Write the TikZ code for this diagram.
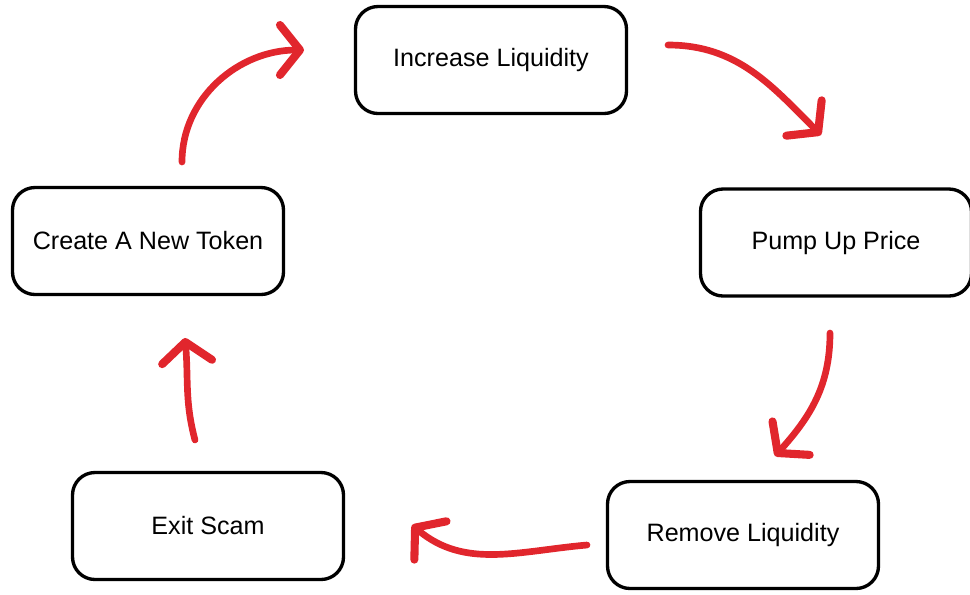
\documentclass[tikz,border=0pt]{standalone}
\usepackage{fontspec}
\setmainfont{Liberation Sans}
\usepackage{tikz}
\usetikzlibrary{arrows.meta}
\definecolor{sRed}{HTML}{E1262D}
\tikzset{box/.style={draw, line width=1.9pt, rounded corners=0.45cm,
  minimum width=5.42cm, minimum height=2.14cm, inner sep=0pt,
  font=\fontsize{14.3}{17}\selectfont}}
\tikzset{r/.style={draw, line width=3.8pt, sRed, line cap=round,
  -{Straight Barb[round, line width=4.6pt, length=0.4cm, width=1.0cm]}}}

\begin{document}
\begin{tikzpicture}
        \useasboundingbox (0,0) rectangle (19.4,-11.88);
        %% boxes
        \node (inc) at (9.82,-1.2) [box] {Increase Liquidity};
        \node (pump) at (16.72,-4.85) [box] {Pump Up Price};
        \node (rem) at (14.86,-10.7) [box] {Remove Liquidity};
        \node (ex) at (4.16,-10.52) [box] {Exit Scam};
        \node (new) at (2.96,-4.82) [box] {Create A New Token};
        %% arrow ends
        \coordinate (n1) at (3.64,-3.24);
        \coordinate (i0) at (6.08,-1.0);
        \coordinate (i1) at (13.36,-0.9);
        \coordinate (p0) at (16.42,-2.7);
        \coordinate (p1) at (16.6,-6.66);
        \coordinate (r0) at (15.5,-9.12);
        \coordinate (r1) at (11.74,-10.9);
        \coordinate (e0) at (8.24,-10.5);
        \coordinate (e1) at (3.9,-8.8);
        \coordinate (n0) at (3.7,-6.76);
        %% arrows
        \draw [r] (n1) to [out=90, in=180] (i0);
        \draw [r] (i1) to [out=0, in=135] (p0);
        \draw [r] (p1) to [out=-90, in=48] (r0);
        \draw [r] (r1) to [out=185, in=-40] (e0);
        \draw [r] (e1) to [out=105, in=-85] (n0);
    \end{tikzpicture}
\end{document}
